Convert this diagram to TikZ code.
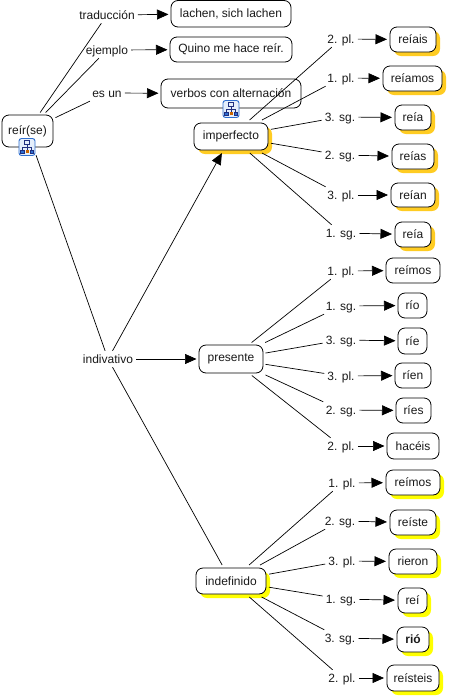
\documentclass[tikz,border=0pt]{standalone}
\usepackage{fontspec}
\setmainfont{Liberation Sans}
\usetikzlibrary{arrows.meta,calc}
\definecolor{ink}{HTML}{1A1A1A}
\definecolor{gold}{HTML}{FFCC22}
\definecolor{lemon}{HTML}{FFFF00}
\definecolor{iconblue}{HTML}{2F6FD0}
\definecolor{iconfill}{HTML}{E4EEFB}
\definecolor{icondark}{HTML}{1F2F7F}
\tikzset{
  x=1pt,y=-1pt,
  every node/.style={font=\fontsize{12}{14}\selectfont,text=ink},
  concept/.style={draw=black,line width=0.8pt,rounded corners=7pt,fill=white,inner sep=0pt,outer sep=2.5pt},
  lab/.style={inner xsep=3pt,inner ysep=0pt,minimum height=16pt,text height=10pt,text depth=2pt},
  link/.style={line width=0.7pt,black},
  arr/.style={line width=0.7pt,black,-{Triangle[length=11.5pt,width=10pt]}},
}
% name, x1, y1, x2, y2, text
\newcommand{\plainbox}[6]{%
  \node[concept,minimum width={#4-#2},minimum height={#5-#3}] (#1) at ({(#2+#4)/2},{(#3+#5)/2}) {#6};}
\newcommand{\shadowbox}[7]{%
  \fill[#7,rounded corners=7pt] (#2+4,#3+4) rectangle (#4+4,#5+4);
  \node[concept,outer sep=3pt,minimum width={#4-#2},minimum height={#5-#3}] (#1) at ({(#2+#4)/2},{(#3+#5)/2}) {#6};}
\newcommand{\mapicon}[2]{%
  \begin{scope}[shift={(#1,#2)}]
    \draw[iconblue,line width=0.9pt,fill=iconfill,rounded corners=2.5pt] (-8,-8.5) rectangle (8,8.5);
    \draw[icondark,line width=0.5pt] (0,-3) -- (0,0) (-4.5,3) -- (-4.5,0) -- (4.5,0) -- (4.5,3) (0,0) -- (0,3);
    \draw[icondark,line width=0.7pt,fill=iconfill] (-2.5,-6.5) rectangle (2.5,-3);
    \draw[icondark,line width=0.5pt,fill=iconblue] (-6.5,3) rectangle (-2.8,6.5);
    \draw[icondark,line width=0.5pt,fill=iconblue] (2.8,3) rectangle (6.5,6.5);
    \fill[orange!80!black] (-1.5,3.2) rectangle (1.5,6);
  \end{scope}}
\newcommand{\lk}[2]{\draw[link] (#1) -- (#2);}
\newcommand{\ar}[2]{\draw[arr] (#1) -- (#2);}
\begin{document}
\begin{tikzpicture}
\useasboundingbox (0,0) rectangle (448,697);
\fill[white] (0,0) rectangle (448,697);

\plainbox{reir}{2}{115}{53}{147}{reír(se)}
\plainbox{lachen}{171}{0.5}{291}{27}{lachen, sich lachen}
\plainbox{quino}{170}{37}{292}{62}{Quino me hace reír.}
\plainbox{verbos}{161}{79}{301}{108}{verbos con alternación}
\plainbox{presente}{199}{345}{263}{373}{presente}

\shadowbox{imperfecto}{194}{123}{268}{150}{imperfecto}{gold}
\shadowbox{ia}{390}{27}{436}{52}{reíais}{gold}
\shadowbox{ib}{383}{66}{442}{91}{reíamos}{gold}
\shadowbox{ic}{395}{105}{431}{130}{reía}{gold}
\shadowbox{id}{392}{144}{434}{169}{reías}{gold}
\shadowbox{ie}{391}{183}{435}{207}{reían}{gold}
\shadowbox{if}{395}{222}{431}{247}{reía}{gold}

\plainbox{pa}{386}{258}{440}{283}{reímos}
\plainbox{pb}{398}{293}{427}{318}{río}
\plainbox{pc}{398}{328}{427}{354}{ríe}
\plainbox{pd}{395}{363}{431}{388}{ríen}
\plainbox{pe}{396}{398}{431}{423}{ríes}
\plainbox{pf}{387}{433}{439}{459}{hacéis}

\shadowbox{indefinido}{196}{568}{266}{594}{indefinido}{lemon}
\shadowbox{da}{386}{470}{440}{495}{reímos}{lemon}
\shadowbox{db}{390}{510}{436}{535}{reíste}{lemon}
\shadowbox{dc}{389}{549}{437}{574}{rieron}{lemon}
\shadowbox{dd}{398}{588}{427}{613}{reí}{lemon}
\shadowbox{de}{397}{627}{429}{652}{\textbf{rió}}{lemon}
\shadowbox{df}{387}{665}{439}{691}{reísteis}{lemon}

\node[lab] (ltr) at (107,15) {traducción};
\node[lab] (lej) at (107,50) {ejemplo};
\node[lab] (les) at (107,93) {es un};
\node[lab] (lin) at (108,359) {indivativo};

\node[lab] (la1) at (341,39) {2. pl.};
\node[lab] (la2) at (341,78) {1. pl.};
\node[lab] (la3) at (340,117) {3. sg.};
\node[lab] (la4) at (340,155) {2. sg.};
\node[lab] (la5) at (341,195) {3. pl.};
\node[lab] (la6) at (341,233) {1. sg.};

\node[lab] (lb1) at (341,271) {1. pl.};
\node[lab] (lb2) at (341,306) {1. sg.};
\node[lab] (lb3) at (341,340) {3. sg.};
\node[lab] (lb4) at (341,376) {3. pl.};
\node[lab] (lb5) at (341,410) {2. sg.};
\node[lab] (lb6) at (341,446) {2. pl.};

\node[lab] (lc1) at (342,483) {1. pl.};
\node[lab] (lc2) at (340,521) {2. sg.};
\node[lab] (lc3) at (342,561) {3. pl.};
\node[lab] (lc4) at (341,599) {1. sg.};
\node[lab] (lc5) at (340,638) {3. sg.};
\node[lab] (lc6) at (342,678) {2. pl.};

\lk{reir}{ltr}\lk{reir}{lej}\lk{reir}{les}
\draw[link,shorten <=6pt] (reir) -- (lin);
\ar{ltr}{lachen}\ar{lej}{quino}\ar{les}{verbos}
\ar{lin}{imperfecto}\ar{lin}{presente}\lk{lin}{indefinido}

\foreach \a/\b in {la1/ia,la2/ib,la3/ic,la4/id,la5/ie,la6/if}{
  \draw[link] (imperfecto) -- (\a); \draw[arr] (\a) -- (\b);}
\foreach \a/\b in {lb1/pa,lb2/pb,lb3/pc,lb4/pd,lb5/pe,lb6/pf}{
  \draw[link] (presente) -- (\a); \draw[arr] (\a) -- (\b);}
\foreach \a/\b in {lc1/da,lc2/db,lc3/dc,lc4/dd,lc5/de,lc6/df}{
  \draw[link] (indefinido) -- (\a); \draw[arr] (\a) -- (\b);}

\mapicon{27}{147}
\mapicon{231}{109}
\end{tikzpicture}
\end{document}
